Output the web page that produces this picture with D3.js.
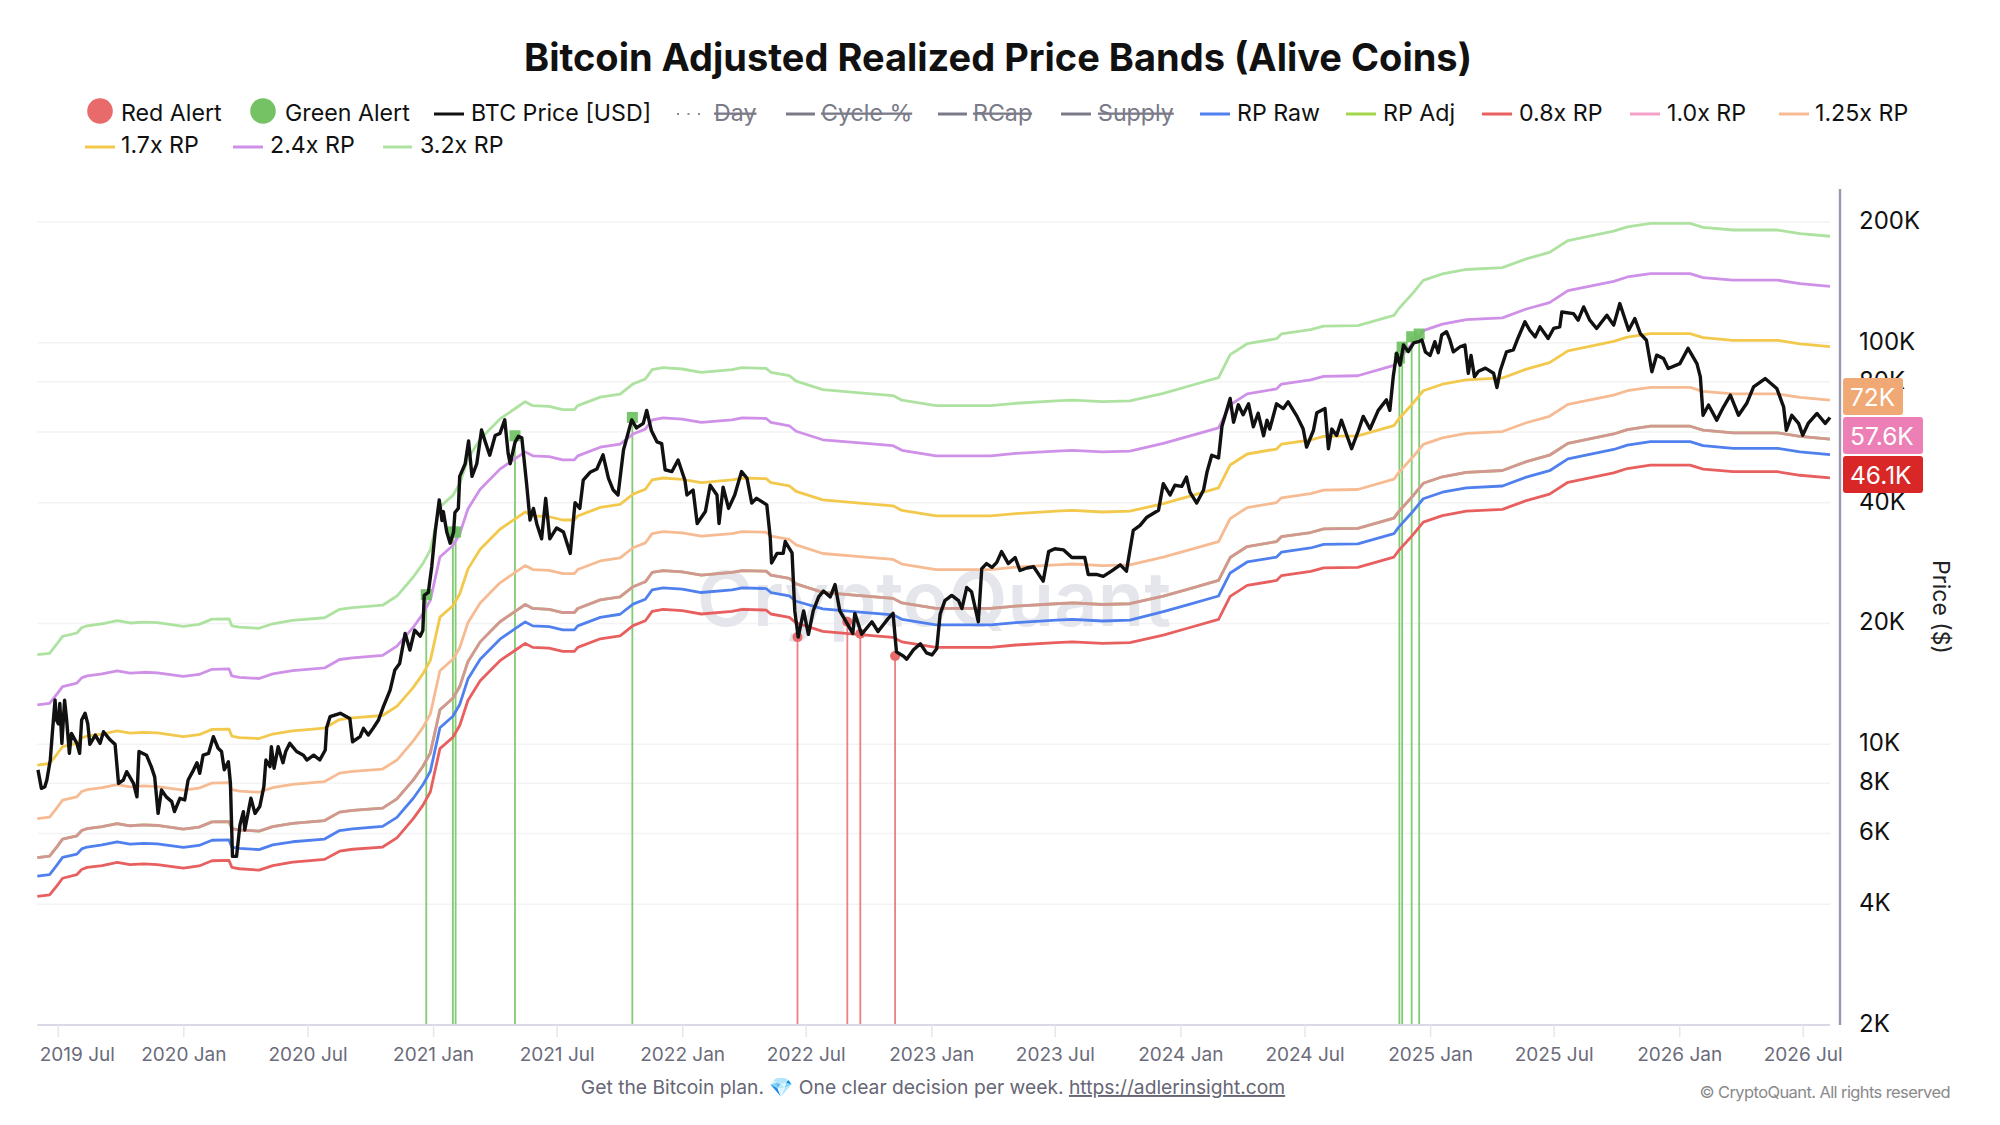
<!DOCTYPE html>
<html><head><meta charset="utf-8">
<script src="https://cdn.jsdelivr.net/npm/d3@7/dist/d3.min.js"></script>
<style>html,body{margin:0;padding:0;background:#fff}svg{display:block}text{font-family:Inter,"Noto Sans",sans-serif}</style>
</head><body><svg id="c" width="2000" height="1125"></svg>
<script>
const bandDates=["2019-06-01","2019-06-19","2019-06-30","2019-07-08","2019-07-29","2019-08-05","2019-08-13","2019-09-04","2019-09-26","2019-10-15",
"2019-11-04","2019-11-24","2020-01-01","2020-01-24","2020-02-12","2020-03-08","2020-03-12","2020-03-23","2020-04-21","2020-05-11",
"2020-06-09","2020-07-26","2020-08-17","2020-09-05","2020-10-19","2020-11-09","2020-12-03","2020-12-17","2020-12-28","2021-01-11",
"2021-01-30","2021-02-09","2021-02-21","2021-03-11","2021-04-09","2021-05-04","2021-05-16","2021-05-27","2021-06-20","2021-07-10",
"2021-07-27","2021-08-01","2021-09-03","2021-10-02","2021-10-21","2021-11-08","2021-11-18","2021-12-04","2022-01-01","2022-01-29",
"2022-03-15","2022-03-30","2022-05-04","2022-05-11","2022-06-07","2022-06-17","2022-07-26","2022-09-14","2022-11-06","2022-11-19",
"2023-01-08","2023-03-12","2023-03-29","2023-05-05","2023-07-03","2023-07-27","2023-09-09","2023-10-19","2023-12-07","2024-01-14",
"2024-02-26","2024-03-14","2024-04-08","2024-05-21","2024-05-28","2024-07-10","2024-07-29","2024-09-17","2024-11-09","2024-11-16",
"2024-12-08","2024-12-22","2025-01-19","2025-02-23","2025-04-17","2025-05-22","2025-06-25","2025-07-22","2025-09-27","2025-10-17",
"2025-11-20","2026-01-17","2026-02-05","2026-03-21","2026-05-25","2026-06-27","2026-08-10"];
const rp08=[4180,4220,4450,4640,4740,4880,4940,4990,5080,5020,
5040,5020,4920,4980,5130,5140,4940,4900,4860,4990,
5090,5170,5420,5480,5550,5850,6530,7050,7620,9760,
10420,11140,12860,14400,16160,17280,17840,17440,17360,17040,
17040,17440,18320,18640,19760,20320,21440,21680,21520,21120,
21440,21680,21600,21120,20720,20080,19120,18800,18480,18000,
17440,17440,17440,17680,17920,18000,17840,17920,18720,19520,
20480,23360,24880,25600,26320,26960,27520,27600,29280,30400,
33440,35760,37120,38080,38480,40480,42000,44960,47440,48640,
49600,49600,48480,47760,47760,46800,46080];
const rpRaw=[4700,4740,5010,5230,5330,5490,5550,5620,5720,5640,
5670,5650,5540,5600,5770,5780,5550,5510,5470,5620,
5720,5810,6100,6160,6250,6580,7340,7930,8570,11000,
11750,12570,14540,16290,18280,19550,20180,19730,19640,19280,
19280,19730,20720,21090,22350,22990,24250,24530,24350,23890,
24250,24530,24440,23890,23440,22720,21750,21390,21020,20480,
19840,19840,19840,20110,20380,20480,20290,20380,21410,22330,
23420,26720,28460,29280,30100,30840,31480,31570,33490,34770,
38250,40900,42460,43550,44010,46300,48040,51420,54260,55630,
56730,56730,55450,54630,54630,53530,52700];
const rpAdj=[5225,5270,5565,5806,5920,6100,6170,6240,6350,6270,
6300,6280,6150,6220,6410,6420,6170,6120,6080,6240,
6360,6460,6780,6845,6940,7315,8160,8810,9525,12200,
13030,13930,16070,18000,20200,21600,22300,21800,21700,21300,
21300,21800,22900,23300,24700,25400,26800,27100,26900,26400,
26800,27100,27000,26400,25900,25100,23900,23500,23100,22500,
21800,21800,21800,22100,22400,22500,22300,22400,23400,24400,
25600,29200,31100,32000,32900,33700,34400,34500,36600,38000,
41800,44700,46400,47600,48100,50600,52500,56200,59300,60800,
62000,62000,60600,59700,59700,58500,57600];
const rp10=rpAdj;
const rp125=[6530,6590,6960,7260,7400,7630,7710,7800,7940,7840,
7880,7850,7690,7780,8010,8030,7710,7650,7600,7800,
7950,8080,8480,8560,8680,9140,10200,11010,11910,15250,
16290,17410,20090,22500,25250,27000,27880,27250,27130,26630,
26630,27250,28630,29130,30880,31750,33500,33880,33630,33000,
33500,33880,33750,33000,32380,31380,29880,29380,28880,28130,
27250,27250,27250,27630,28000,28130,27880,28000,29250,30500,
32000,36500,38880,40000,41130,42130,43000,43130,45750,47500,
52250,55880,58000,59500,60130,63250,65630,70250,74130,76000,
77500,77500,75750,74630,74630,73130,72000];
const rp17=[8880,8960,9460,9870,10060,10370,10490,10610,10800,10660,
10710,10680,10460,10570,10900,10910,10490,10400,10340,10610,
10810,10980,11530,11640,11800,12440,13870,14980,16190,20740,
22150,23680,27320,30600,34340,36720,37910,37060,36890,36210,
36210,37060,38930,39610,41990,43180,45560,46070,45730,44880,
45560,46070,45900,44880,44030,42670,40630,39950,39270,38250,
37060,37060,37060,37570,38080,38250,37910,38080,39780,41480,
43520,49640,52870,54400,55930,57290,58480,58650,62220,64600,
71060,75990,78880,80920,81770,86020,89250,95540,100810,103360,
105400,105400,103020,101490,101490,99450,97920];
const rp24=[12540,12650,13360,13930,14210,14640,14810,14980,15240,15050,
15120,15070,14760,14930,15380,15410,14810,14690,14590,14980,
15260,15500,16270,16430,16660,17560,19580,21140,22860,29280,
31270,33430,38570,43200,48480,51840,53520,52320,52080,51120,
51120,52320,54960,55920,59280,60960,64320,65040,64560,63360,
64320,65040,64800,63360,62160,60240,57360,56400,55440,54000,
52320,52320,52320,53040,53760,54000,53520,53760,56160,58560,
61440,70080,74640,76800,78960,80880,82560,82800,87840,91200,
100320,107280,111360,114240,115440,121440,126000,134880,142320,145920,
148800,148800,145440,143280,143280,140400,138240];
const rp32=[16720,16860,17810,18580,18940,19520,19740,19970,20320,20060,
20160,20100,19680,19900,20510,20540,19740,19580,19460,19970,
20350,20670,21700,21900,22210,23410,26110,28190,30480,39040,
41700,44580,51420,57600,64640,69120,71360,69760,69440,68160,
68160,69760,73280,74560,79040,81280,85760,86720,86080,84480,
85760,86720,86400,84480,82880,80320,76480,75200,73920,72000,
69760,69760,69760,70720,71680,72000,71360,71680,74880,78080,
81920,93440,99520,102400,105280,107840,110080,110400,117120,121600,
133760,143040,148480,152320,153920,161920,168000,179840,189760,194560,
198400,198400,193920,191040,191040,187200,184320];

const btcStart="2019-06-01";
const btcTrace=[[1,8640],[6,7770],[11,7840],[14,8150],[19,9140],[22,10650],[26,12900],[28,11500],[31,11250],[33,12650],[36,10060],[40,12890],[43,11500],[47,9500],[50,10650],[58,10060],[62,9500],[65,11500],[70,11950],[74,11250],[77,10000],[85,10550],[92,10060],[97,10750],[107,10250],[114,10000],[119,8000],[126,8150],[131,8550],[141,8000],[146,7400],[149,9600],[160,9400],[167,8800],[172,8300],[177,6730],[182,7700],[189,7400],[197,7200],[201,6800],[209,7340],[216,7270],[221,8150],[229,8640],[234,9000],[238,8470],[243,9400],[251,9500],[258,10450],[265,9780],[270,9600],[274,8640],[280,9050],[283,8000],[286,5260],[292,5260],[297,6300],[302,6800],[304,6120],[313,7340],[319,6730],[326,7000],[332,7850],[335,9140],[341,8800],[343,9870],[347,8720],[353,9870],[360,9000],[364,9600],[370,10060],[380,9600],[390,9400],[395,9140],[405,9400],[414,9140],[422,9680],[424,11000],[429,11720],[444,11950],[458,11600],[462,10150],[473,10450],[478,10960],[485,10550],[492,10960],[500,11500],[507,12400],[517,13650],[524,15320],[531,15900],[539,18900],[546,17180],[553,19250],[561,18600],[565,19200],[567,23500],[573,23900],[578,27700],[583,33800],[589,40600],[593,36100],[595,38000],[600,33800],[605,31700],[610,33800],[612,37800],[617,38700],[619,46500],[627,50000],[632,57000],[637,46500],[644,50000],[651,60700],[656,57000],[663,52500],[671,58800],[678,59500],[685,64300],[690,53000],[693,50000],[700,56500],[705,58500],[710,58000],[717,44600],[722,36200],[727,38700],[732,35400],[739,32500],[745,41000],[751,32500],[761,34600],[771,33800],[781,29900],[788,40000],[795,38700],[800,45500],[810,47600],[820,48500],[829,52600],[837,46000],[844,43000],[851,41800],[859,54100],[871,64300],[878,61400],[888,63000],[893,67900],[900,60400],[908,56700],[915,56100],[920,48300],[930,47800],[939,51100],[949,45500],[952,41800],[961,43000],[967,35500],[979,38000],[986,44200],[996,41800],[999,35500],[1005,43700],[1013,38700],[1022,41800],[1032,47800],[1040,46000],[1047,39900],[1054,41000],[1069,39500],[1074,32800],[1076,28300],[1084,29900],[1093,29900],[1096,32000],[1106,30000],[1110,21500],[1115,18500],[1123,21500],[1130,18800],[1137,21500],[1145,23300],[1152,24100],[1162,23300],[1169,25000],[1176,21500],[1186,20100],[1195,18900],[1198,21200],[1208,18800],[1223,20200],[1232,19100],[1247,20600],[1254,21200],[1259,17000],[1269,16600],[1274,16300],[1284,17200],[1294,17800],[1303,16900],[1311,16700],[1318,17300],[1323,21100],[1330,22800],[1340,23500],[1350,22800],[1355,21800],[1362,24600],[1369,24000],[1379,20200],[1384,27400],[1391,28200],[1399,27600],[1406,28400],[1413,30200],[1423,28200],[1433,29200],[1440,27100],[1450,27500],[1460,27700],[1474,25500],[1482,30200],[1491,30700],[1504,30500],[1516,29200],[1535,29200],[1540,26500],[1552,26500],[1562,26200],[1574,27000],[1587,28000],[1596,27000],[1606,34100],[1616,35100],[1626,36800],[1643,38300],[1650,44600],[1660,41800],[1667,44200],[1677,43900],[1684,46300],[1689,42500],[1699,39900],[1709,43000],[1714,47600],[1721,52500],[1731,51700],[1736,62000],[1748,72700],[1753,63400],[1760,70100],[1767,66200],[1775,70500],[1782,61800],[1789,66800],[1797,58700],[1802,64200],[1806,61000],[1816,70500],[1826,68600],[1833,71300],[1846,65600],[1855,61000],[1860,55000],[1870,60500],[1875,67000],[1887,68600],[1892,54500],[1897,61000],[1904,58800],[1911,64200],[1919,58800],[1926,54500],[1936,60500],[1943,65600],[1953,61000],[1965,67900],[1977,72100],[1982,67900],[1987,82400],[1992,94200],[1997,88000],[2002,98800],[2009,95100],[2017,100000],[2024,100700],[2029,101700],[2034,95000],[2041,93000],[2048,100700],[2053,94500],[2058,104600],[2065,106600],[2070,101700],[2075,95000],[2085,97800],[2092,98800],[2097,84000],[2101,93000],[2106,82400],[2112,85000],[2122,86500],[2134,84000],[2139,77400],[2144,85500],[2153,95000],[2163,96000],[2170,103000],[2180,112900],[2187,107500],[2195,103500],[2202,109600],[2214,102500],[2222,108600],[2231,109600],[2234,119400],[2251,118300],[2258,113900],[2266,122900],[2275,113900],[2285,108600],[2300,117200],[2310,110700],[2319,125300],[2332,107500],[2341,115000],[2349,105500],[2358,101500],[2366,84700],[2373,93200],[2383,91400],[2390,86300],[2407,88800],[2419,96900],[2432,88800],[2437,82300],[2441,66000],[2449,70000],[2461,64200],[2471,69300],[2481,74100],[2493,66000],[2505,70700],[2515,77700],[2532,81500],[2549,77000],[2559,69300],[2563,60600],[2571,66000],[2581,63000],[2587,58900],[2595,63000],[2608,66700],[2620,63000],[2627,65200]];

const greenAlertDays=[570,609,613,700,872,1996,2000,2014,2025];
const greenAlertPrices=[23600,33800,33800,58700,65200,91600,97600,103600,105200];
const redAlertDays=[1114,1187,1206,1257];
const redAlertPrices=[18500,20200,18850,16600];

const xTickDates=["2019-07-01","2020-01-01","2020-07-01","2021-01-01","2021-07-01","2022-01-01","2022-07-01","2023-01-01","2023-07-01","2024-01-01","2024-07-01","2025-01-01","2025-07-01","2026-01-01","2026-07-01"];
const yTickValues=[2000,4000,6000,8000,10000,20000,40000,80000,100000,200000];
const yGridValues=[4000,6000,8000,10000,20000,40000,60000,80000,100000,200000];
const badgeLabels=["72K","57.6K","46.1K"];

const legendRow1=[
 {k:"dot",c:"#e86a6a",n:"Red Alert",cx:100,tx:121},
 {k:"dot",c:"#74c263",n:"Green Alert",cx:263,tx:285},
 {k:"line",c:"#111111",n:"BTC Price [USD]",x0:434,x1:464,tx:471},
 {k:"dots",c:"#8a8a98",n:"Day",x0:677,x1:702,tx:714,off:1},
 {k:"line",c:"#7a7a88",n:"Cycle %",x0:786,x1:815,tx:821,off:1},
 {k:"line",c:"#7a7a88",n:"RCap",x0:938,x1:967,tx:973,off:1},
 {k:"line",c:"#7a7a88",n:"Supply",x0:1061,x1:1091,tx:1098,off:1},
 {k:"line",c:"#4f80ee",n:"RP Raw",x0:1200,x1:1230,tx:1237},
 {k:"line",c:"#a3d64a",n:"RP Adj",x0:1346,x1:1376,tx:1383},
 {k:"line",c:"#e85f5f",n:"0.8x RP",x0:1482,x1:1512,tx:1519},
 {k:"line",c:"#f5a0c8",n:"1.0x RP",x0:1630,x1:1660,tx:1667},
 {k:"line",c:"#f6bb92",n:"1.25x RP",x0:1779,x1:1809,tx:1815}];
const legendRow2=[
 {k:"line",c:"#f2c94c",n:"1.7x RP",x0:85,x1:115,tx:121},
 {k:"line",c:"#cf90e8",n:"2.4x RP",x0:233,x1:263,tx:270},
 {k:"line",c:"#aee2a0",n:"3.2x RP",x0:383,x1:412,tx:420}];

const svg=d3.select("#c");
const P={l:37.3,r:1830,t:222,b:1025};
const parse=d3.utcParse("%Y-%m-%d");
const x=d3.scaleUtc().domain([parse("2019-06-01"),parse("2026-08-10")]).range([P.l,P.r]);
const y=d3.scaleLog().domain([2000,200000]).range([P.b,P.t]);

svg.append("text").attr("x",998).attr("y",71).attr("text-anchor","middle").attr("font-size",38).attr("font-weight",700).attr("fill","#111").text("Bitcoin Adjusted Realized Price Bands (Alive Coins)");

// grid
svg.append("g").selectAll("line").data(yGridValues).join("line")
 .attr("x1",P.l).attr("x2",P.r).attr("y1",d=>y(d)).attr("y2",d=>y(d)).attr("stroke","#f3f3f5").attr("stroke-width",1.5);

// watermark
svg.append("text").attr("x",934).attr("y",626).attr("text-anchor","middle").attr("font-size",76).attr("font-weight",600).attr("fill","#e5e5ec").text("CryptoQuant");

// alert rules
const bDate=d=>d3.utcDay.offset(parse(btcStart),d);
const gAlerts=greenAlertDays.map((d,i)=>({t:bDate(d),v:greenAlertPrices[i]}));
const rAlerts=redAlertDays.map((d,i)=>({t:bDate(d),v:redAlertPrices[i]}));
svg.append("g").selectAll("line").data(gAlerts).join("line")
 .attr("x1",d=>x(d.t)).attr("x2",d=>x(d.t)).attr("y1",d=>y(d.v)).attr("y2",P.b).attr("stroke","#83cb75").attr("stroke-width",1.8);
svg.append("g").selectAll("line").data(rAlerts).join("line")
 .attr("x1",d=>x(d.t)).attr("x2",d=>x(d.t)).attr("y1",d=>y(d.v)).attr("y2",P.b).attr("stroke","#ec8080").attr("stroke-width",1.8);

// bands
const bd=bandDates.map(parse);
const line=d3.line().x(d=>x(d[0])).y(d=>y(d[1]));
const bands=[[rp32,"#aee2a0",1],[rp24,"#cf90e8",1],[rp17,"#f2c94c",1],[rp125,"#f6bb92",1],[rpAdj,"#a3d64a",1],[rp10,"#d8909a",.92],[rpRaw,"#4f80ee",1],[rp08,"#e85f5f",1]];
svg.append("g").attr("fill","none").selectAll("path").data(bands).join("path")
 .attr("d",s=>line(s[0].map((v,i)=>[bd[i],v]))).attr("stroke",s=>s[1]).attr("stroke-opacity",s=>s[2]).attr("stroke-width",2.8).attr("stroke-linejoin","round");

// markers under price
svg.append("g").selectAll("rect").data(gAlerts).join("rect")
 .attr("x",d=>x(d.t)-5.5).attr("y",d=>y(d.v)-5.5).attr("width",11).attr("height",11).attr("fill","#6cc05e").attr("fill-opacity",.9);
svg.append("g").selectAll("circle").data(rAlerts).join("circle")
 .attr("cx",d=>x(d.t)).attr("cy",d=>y(d.v)).attr("r",5).attr("fill","#e86a6a");

// price
svg.append("path").attr("fill","none").attr("stroke","#111").attr("stroke-width",3.4).attr("stroke-linejoin","round")
 .attr("d",line(btcTrace.map(p=>[bDate(p[0]),p[1]])));

// x axis
const xa=d3.axisBottom(x).tickValues(xTickDates.map(parse)).tickSize(12).tickPadding(8).tickFormat(d3.utcFormat("%Y %b"));
const gx=svg.append("g").attr("transform",`translate(0,${P.b})`).call(xa);
gx.select(".domain").attr("d",`M${P.l},0H${P.r}`).attr("stroke","#d9d9e6").attr("stroke-width",2);
gx.selectAll(".tick line").attr("stroke","#e6e6ee").attr("stroke-width",1.5);
gx.selectAll(".tick text").attr("font-family","Inter").attr("font-size",19).attr("fill","#6b6b7a").attr("y",22.5);
gx.select(".tick:first-of-type text").attr("dx",19);

// y axis
const ya=d3.axisRight(y).tickValues(yTickValues).tickSize(0).tickPadding(19).tickFormat(d=>(d/1000)+"K");
const gy=svg.append("g").attr("transform",`translate(1840,0)`).call(ya);
gy.select(".domain").attr("d",`M0,189V${P.b}`).attr("stroke","#9a9aae").attr("stroke-width",2.4);
gy.selectAll(".tick text").attr("font-family","Inter").attr("font-size",24).attr("fill","#111").attr("dy","0.27em");

// badges
const badgeData=[[378,60,"#f0a875"],[417,80,"#ec7fb5"],[456,80,"#d92626"]].map((b,i)=>({top:b[0],w:b[1],c:b[2],t:badgeLabels[i]}));
const bg=svg.append("g").selectAll("g").data(badgeData).join("g");
bg.append("rect").attr("x",1843).attr("y",d=>d.top).attr("width",d=>d.w).attr("height",37).attr("rx",3).attr("fill",d=>d.c);
bg.append("text").attr("x",1850).attr("y",d=>d.top+28).attr("font-size",24.5).attr("fill","#fff").text(d=>d.t);

svg.append("text").attr("transform","translate(1933,607) rotate(90)").attr("text-anchor","middle").attr("font-size",23).attr("fill","#222").text("Price ($)");

// legend
function legend(row,cy,by){
 const g=svg.append("g").selectAll("g").data(row).join("g");
 g.filter(d=>d.k==="dot").append("ellipse").attr("cx",d=>d.cx).attr("cy",cy-3).attr("rx",12.8).attr("ry",12.8).attr("fill",d=>d.c);
 g.filter(d=>d.k==="line").append("line").attr("x1",d=>d.x0).attr("x2",d=>d.x1).attr("y1",cy).attr("y2",cy).attr("stroke",d=>d.c).attr("stroke-width",3);
 g.filter(d=>d.k==="dots").append("line").attr("x1",d=>d.x0).attr("x2",d=>d.x1).attr("y1",cy).attr("y2",cy).attr("stroke",d=>d.c).attr("stroke-width",2).attr("stroke-dasharray","2 8.5");
 g.append("text").attr("x",d=>d.tx).attr("y",by).attr("font-size",23.2).attr("fill",d=>d.off?"#7a7a88":"#111").attr("text-decoration",d=>d.off?"line-through":null).text(d=>d.n);
}
legend(legendRow1,114,121);
legend(legendRow2,147,153);

// footer
const f=svg.append("text").attr("x",933).attr("y",1094).attr("text-anchor","middle").attr("font-size",19.25).attr("fill","#666675");
f.append("tspan").text("Get the Bitcoin plan. 💎 One clear decision per week. ");
f.append("tspan").attr("text-decoration","underline").text("https://adlerinsight.com");
svg.append("text").attr("x",1950).attr("y",1098).attr("text-anchor","end").attr("font-size",16.5).attr("letter-spacing","-0.6").attr("fill","#8a8a8a").text("© CryptoQuant. All rights reserved");
</script></body></html>
